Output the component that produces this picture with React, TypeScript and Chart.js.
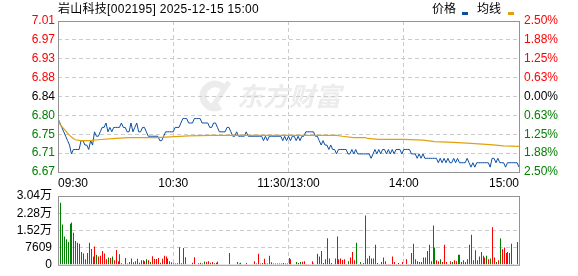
import { useEffect, useRef } from 'react';
import { Chart, registerables } from 'chart.js';
Chart.register(...registerables);

const FONT = '"Liberation Sans", "Noto Sans CJK SC", sans-serif';
const RED = '#ff0000';
const GREEN = '#008000';
const BLACK = '#000000';
const GRID = '#cccccc';
const FRAME = '#939393';
const PRICE_COLOR = '#0b4fa3';
const AVG_COLOR = '#e2a10c';

const titleText = '岩山科技[002195] 2025-12-15 15:00';
const legendPrice = '价格';
const legendAvg = '均线';

const PREV_CLOSE = 6.84;
const LIMIT_PCT = 2.5;

const timeTickMinutes = [0, 60, 120, 180, 240];
const timeLabels = ['09:30', '10:30', '11:30/13:00', '14:00', '15:00'];
// top to bottom
const priceTickLabels = ['7.01', '6.97', '6.93', '6.88', '6.84', '6.80', '6.75', '6.71', '6.67'];
const pctTickLabels = ['2.50%', '1.88%', '1.25%', '0.63%', '0.00%', '0.63%', '1.25%', '1.88%', '2.50%'];
// bottom to top
const volTickValues = [0, 7609, 15218, 22827, 30436];
const volTickLabels = ['0', '7609', '1.52万', '2.28万', '3.04万'];

// one price per minute, 09:30 .. 11:30 / 13:01 .. 15:00
const prices = [
  6.79, 6.78, 6.77, 6.76, 6.75, 6.74, 6.73, 6.71, 6.72, 6.72,
  6.72, 6.72, 6.74, 6.74, 6.73, 6.73, 6.72, 6.74, 6.73, 6.76,
  6.75, 6.75, 6.76, 6.77, 6.77, 6.78, 6.76, 6.77, 6.76, 6.77,
  6.77, 6.77, 6.77, 6.78, 6.77, 6.77, 6.76, 6.76, 6.78, 6.76,
  6.77, 6.78, 6.76, 6.76, 6.77, 6.77, 6.76, 6.75, 6.75, 6.75,
  6.75, 6.75, 6.75, 6.74, 6.74, 6.75, 6.76, 6.76, 6.76, 6.76,
  6.76, 6.77, 6.77, 6.77, 6.78, 6.79, 6.79, 6.79, 6.78, 6.78,
  6.78, 6.79, 6.79, 6.79, 6.79, 6.78, 6.78, 6.78, 6.78, 6.77,
  6.77, 6.78, 6.78, 6.77, 6.76, 6.76, 6.76, 6.76, 6.77, 6.77,
  6.76, 6.75, 6.75, 6.76, 6.75, 6.75, 6.75, 6.75, 6.76, 6.75,
  6.75, 6.75, 6.75, 6.75, 6.75, 6.75, 6.75, 6.74, 6.75, 6.74,
  6.75, 6.75, 6.75, 6.75, 6.75, 6.75, 6.75, 6.74, 6.75, 6.74,
  6.75, 6.74, 6.75, 6.75, 6.74, 6.75, 6.74, 6.75, 6.75, 6.76,
  6.76, 6.76, 6.76, 6.76, 6.75, 6.75, 6.74, 6.73, 6.74, 6.73,
  6.73, 6.72, 6.73, 6.72, 6.72, 6.71, 6.72, 6.72, 6.72, 6.72,
  6.72, 6.71, 6.71, 6.72, 6.71, 6.72, 6.71, 6.71, 6.71, 6.71,
  6.71, 6.71, 6.71, 6.70, 6.71, 6.72, 6.71, 6.72, 6.71, 6.72,
  6.72, 6.71, 6.72, 6.71, 6.72, 6.71, 6.72, 6.72, 6.72, 6.71,
  6.72, 6.72, 6.72, 6.72, 6.71, 6.71, 6.71, 6.70, 6.71, 6.70,
  6.71, 6.70, 6.70, 6.70, 6.70, 6.70, 6.70, 6.70, 6.69, 6.70,
  6.69, 6.70, 6.69, 6.70, 6.69, 6.69, 6.70, 6.69, 6.70, 6.69,
  6.69, 6.69, 6.69, 6.70, 6.69, 6.68, 6.69, 6.68, 6.69, 6.69,
  6.69, 6.69, 6.69, 6.69, 6.69, 6.68, 6.70, 6.70, 6.69, 6.70,
  6.69, 6.69, 6.69, 6.68, 6.69, 6.69, 6.69, 6.69, 6.69, 6.69,
  6.68,
];

// average-price line, read at its turning points
const avgMinutes = [0, 1, 4, 6, 8, 9, 12, 16, 21, 30, 37, 51, 61, 68, 80, 145, 148, 154, 160, 161, 167, 180, 190, 196, 206, 215, 225, 232, 240];
const avgPrices = [6.790, 6.777, 6.762, 6.752, 6.745, 6.742, 6.740, 6.740, 6.742, 6.745, 6.747, 6.747, 6.749, 6.751, 6.752, 6.752, 6.750, 6.747, 6.747, 6.745, 6.743, 6.743, 6.741, 6.738, 6.736, 6.734, 6.731, 6.728, 6.727];

// volume per minute (shares, hundreds)
const volumes = [
  0, 27480, 17780, 12530, 11320, 10100, 18190, 18720, 14140, 10510,
  9700, 9290, 5660, 4980, 2430, 5250, 9700, 7000, 3640, 8080,
  4450, 3640, 4040, 6060, 4980, 2430, 3230, 2960, 3640, 2020,
  6600, 1620, 4710, 670, 300, 2960, 540, 1210, 2830, 1080,
  1620, 2690, 940, 2020, 2020, 1620, 2430, 2020, 1210, 3770,
  2560, 2560, 2960, 940, 2690, 4040, 3640, 2830, 1620, 1080,
  670, 540, 670, 7810, 670, 7400, 3370, 270, 270, 270,
  940, 3370, 270, 670, 940, 540, 1480, 1210, 1620, 940,
  1210, 670, 940, 1350, 270, 270, 270, 270, 270, 5250,
  270, 270, 270, 1210, 540, 940, 270, 270, 810, 270,
  270, 270, 1620, 540, 4850, 540, 810, 2690, 540, 540,
  4040, 1080, 540, 540, 540, 540, 540, 810, 540, 540,
  2960,
  2430, 270, 270, 1210, 810, 1210, 1350, 1620, 400, 400,
  270, 1620, 540, 270, 4850, 3640, 6060, 810, 2430, 11720,
  2830, 810, 270, 2830, 12530, 2430, 2830, 2160, 2430, 400,
  1620, 3230, 5660, 2020, 9700, 400, 1210, 400, 810, 21820,
  2830, 4040, 2830, 2830, 8890, 810, 400, 1210, 3230, 1620,
  400, 400, 400, 3640, 1210, 400, 810, 400, 1210, 270,
  2430, 400, 400, 5250, 9290, 2430, 1620, 1210, 1210, 3230,
  3230, 6060, 8890, 1620, 17380, 7680, 2020, 1620, 2430, 1210,
  8890, 1210, 400, 1620, 1210, 2020, 1620, 4450, 4450, 1210,
  2020, 1210, 2430, 8890, 13340, 2020, 6470, 2020, 3640, 5660,
  4040, 3230, 4040, 2430, 2830, 16570, 3230, 1210, 2020, 11720,
  6870, 7680, 5250, 5660, 5250, 9290, 400, 0, 10100, 0,
];

// r = up bar, g = down bar
const volDirections = (
  'rgggggggrr' + 'rrrrgrgrgr' + 'grrrrrgrgr' + 'rrrgrrgrrr' + 'grrggrgrgr' + 'rrrgrrrrrr' +
  'rrrrrrrrrr' + 'rrrrrggrrg' + 'rgrggggggr' + 'rrgrrgggrr' + 'rrrgrrgrgr' + 'rrrrrrrgrr' + 'g' +
  'rrrgrgrrrr' + 'rrgrgrgrgg' + 'rrgggrrrrr' + 'grrrgrgrrr' + 'rgrrrrrrrg' + 'rrrrrrrrrr' +
  'rrrgrrggrr' + 'grrrrgrrgr' + 'rrgrgrrgrg' + 'rrgrgrgrrr' + 'rrgrgrrgrg' + 'rrrrrgrrgr'
).split('');

const tickFont = { family: FONT, size: 12 };

const framePlugin = {
  id: 'frame',
  afterDatasetsDraw(chart: any) {
    const { ctx, chartArea: a } = chart;
    ctx.save();
    ctx.strokeStyle = FRAME;
    ctx.lineWidth = 1;
    ctx.strokeRect(a.left + 0.5, a.top + 0.5, a.right - a.left, a.bottom - a.top);
    ctx.restore();
  },
};

const watermarkPlugin = {
  id: 'watermark',
  beforeDraw(chart: any) {
    const { ctx, chartArea: a } = chart;
    ctx.save();
    const cx = a.left + 157;
    const cy = a.top + 75;
    ctx.fillStyle = '#ececec';
    ctx.strokeStyle = '#ececec';
    ctx.lineWidth = 7;
    ctx.beginPath();
    ctx.arc(cx, cy, 12, Math.PI * 0.35, Math.PI * 1.75);
    ctx.stroke();
    ctx.beginPath();
    ctx.moveTo(cx - 4, cy + 13);
    ctx.lineTo(cx + 14, cy - 14);
    ctx.lineWidth = 5;
    ctx.stroke();
    ctx.font = 'italic bold 26px "Noto Sans CJK SC", sans-serif';
    ctx.textBaseline = 'middle';
    ctx.textAlign = 'left';
    ctx.fillText('东方财富', a.left + 179, cy);
    ctx.restore();
  },
};

const crispBarsPlugin = {
  id: 'crispBars',
  beforeDatasetsDraw(chart: any) {
    chart.getDatasetMeta(0).data.forEach((el: any) => {
      el.x = Math.round(el.x) + 0.5;
    });
  },
};

const valueColor = (v: number) =>
  Math.abs(v - PREV_CLOSE) < 1e-6 ? BLACK : v > PREV_CLOSE ? RED : GREEN;

export default function App() {
  const mainRef = useRef<HTMLCanvasElement>(null);
  const volRef = useRef<HTMLCanvasElement>(null);

  useEffect(() => {
    const hi = PREV_CLOSE * (1 + LIMIT_PCT / 100);
    const lo = PREV_CLOSE * (1 - LIMIT_PCT / 100);
    const n = priceTickLabels.length;
    const priceTicks = priceTickLabels.map((_, i) => lo + ((hi - lo) * i) / (n - 1));

    const edgeTransparent = (count: number) => (c: any) =>
      c.index === 0 || c.index === count - 1 ? 'rgba(0,0,0,0)' : GRID;

    const main = new Chart(mainRef.current as HTMLCanvasElement, {
      type: 'line',
      data: {
        datasets: [
          {
            label: legendAvg,
            data: avgMinutes.map((m, i) => ({ x: m, y: avgPrices[i] })),
            borderColor: AVG_COLOR,
            borderWidth: 1.2,
            pointRadius: 0,
            tension: 0,
            yAxisID: 'y',
          },
          {
            label: legendPrice,
            data: prices.map((p, i) => ({ x: i, y: p })),
            borderColor: PRICE_COLOR,
            borderWidth: 1,
            pointRadius: 0,
            tension: 0,
            yAxisID: 'y',
          },
        ],
      },
      options: {
        responsive: false,
        animation: false,
        events: [],
        layout: { padding: { top: 21, left: 0, right: 0, bottom: 0 } },
        plugins: { legend: { display: false }, tooltip: { enabled: false }, title: { display: false } },
        scales: {
          x: {
            type: 'linear',
            min: 0,
            max: 240,
            afterBuildTicks: (s: any) => {
              s.ticks = timeTickMinutes.map((v) => ({ value: v }));
            },
            afterFit: (s: any) => {
              s.height = 20;
            },
            ticks: {
              autoSkip: false,
              maxRotation: 0,
              align: 'inner',
              padding: 4,
              color: BLACK,
              font: tickFont,
              callback: (_v: any, i: number) => timeLabels[i],
            },
            grid: { color: edgeTransparent(timeTickMinutes.length), drawTicks: false, lineWidth: 1 },
            border: { display: false, dash: [4, 3] },
          },
          y: {
            type: 'linear',
            position: 'left',
            min: lo,
            max: hi,
            afterBuildTicks: (s: any) => {
              s.ticks = priceTicks.map((v) => ({ value: v }));
            },
            afterFit: (s: any) => {
              s.width = 58;
            },
            ticks: {
              padding: 3,
              font: tickFont,
              color: (c: any) => valueColor(c.tick.value),
              callback: (_v: any, i: number) => priceTickLabels[n - 1 - i],
            },
            grid: { color: edgeTransparent(n), drawTicks: false, lineWidth: 1 },
            border: { display: false, dash: [4, 3] },
          },
          y2: {
            type: 'linear',
            position: 'right',
            min: lo,
            max: hi,
            afterBuildTicks: (s: any) => {
              s.ticks = priceTicks.map((v) => ({ value: v }));
            },
            afterFit: (s: any) => {
              s.width = 59;
            },
            ticks: {
              padding: 5,
              font: tickFont,
              color: (c: any) => valueColor(c.tick.value),
              callback: (_v: any, i: number) => pctTickLabels[n - 1 - i],
            },
            grid: { display: false, drawTicks: false },
            border: { display: false },
          },
        },
      } as any,
      plugins: [watermarkPlugin, framePlugin],
    });

    const vn = volTickValues.length;
    const vol = new Chart(volRef.current as HTMLCanvasElement, {
      type: 'bar',
      data: {
        datasets: [
          {
            label: '成交量',
            data: volumes.map((v, i) => ({ x: i, y: v })),
            backgroundColor: volDirections.map((d) => (d === 'r' ? RED : GREEN)),
            barThickness: 1,
            borderWidth: 0,
            inflateAmount: 0,
          } as any,
        ],
      },
      options: {
        responsive: false,
        animation: false,
        events: [],
        layout: { padding: { top: 14, left: 0, right: 59, bottom: 8 } },
        plugins: { legend: { display: false }, tooltip: { enabled: false } },
        scales: {
          x: {
            type: 'linear',
            min: 0,
            max: 240,
            offset: false,
            afterBuildTicks: (s: any) => {
              s.ticks = timeTickMinutes.map((v) => ({ value: v }));
            },
            afterFit: (s: any) => {
              s.height = 0;
            },
            ticks: { display: false },
            grid: { offset: false, color: edgeTransparent(timeTickMinutes.length), drawTicks: false, lineWidth: 1 },
            border: { display: false, dash: [4, 3] },
          },
          y: {
            type: 'linear',
            position: 'left',
            min: 0,
            max: volTickValues[vn - 1],
            afterBuildTicks: (s: any) => {
              s.ticks = volTickValues.map((v) => ({ value: v }));
            },
            afterFit: (s: any) => {
              s.width = 58;
            },
            ticks: {
              padding: 6,
              font: tickFont,
              color: BLACK,
              callback: (_v: any, i: number) => volTickLabels[i],
            },
            grid: { color: edgeTransparent(vn), drawTicks: false, lineWidth: 1 },
            border: { display: false, dash: [4, 3] },
          },
        },
      } as any,
      plugins: [crispBarsPlugin, framePlugin],
    });

    return () => {
      main.destroy();
      vol.destroy();
    };
  }, []);

  const textStyle: any = {
    position: 'absolute',
    fontFamily: FONT,
    fontSize: 12,
    lineHeight: '14px',
    color: BLACK,
    whiteSpace: 'nowrap',
  };

  return (
    <div
      style={{
        position: 'fixed',
        left: 0,
        top: 0,
        width: 578,
        height: 276,
        overflow: 'hidden',
        background: '#ffffff',
      }}
    >
      <canvas ref={mainRef} width={578} height={192} style={{ position: 'absolute', left: 0, top: 0 }} />
      <canvas ref={volRef} width={578} height={96} style={{ position: 'absolute', left: 0, top: 182 }} />
      <span style={{ ...textStyle, left: 58, top: 2, letterSpacing: '0.28px' }}>{titleText}</span>
      <span style={{ ...textStyle, left: 432, top: 2 }}>{legendPrice}</span>
      <span style={{ position: 'absolute', left: 462, top: 12, width: 6, height: 3, background: PRICE_COLOR }} />
      <span style={{ ...textStyle, left: 477, top: 2 }}>{legendAvg}</span>
      <span style={{ position: 'absolute', left: 508, top: 12, width: 6, height: 3, background: AVG_COLOR }} />
    </div>
  );
}
